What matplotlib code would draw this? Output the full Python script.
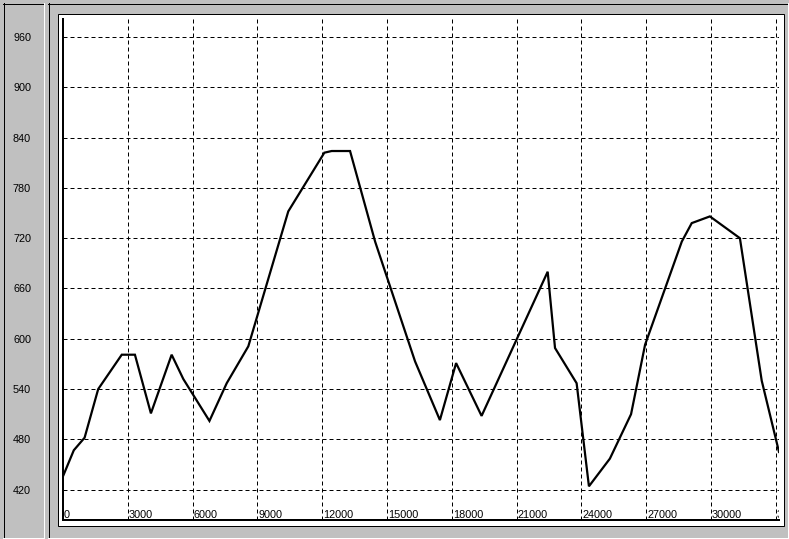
import matplotlib
matplotlib.use("Agg")
import matplotlib.pyplot as plt
import matplotlib.transforms as mtransforms
from matplotlib.patches import Rectangle
from matplotlib.lines import Line2D

# данные
dist = [0, 500, 1000, 1630, 2720, 3330, 4070, 5030, 5570, 6780, 7580, 8580,
        10430, 12100, 12440, 13290, 14450, 16300, 17450, 18200, 19380, 22440,
        22780, 23780, 24350, 25320, 26300, 26950, 28650, 29110, 29950, 31340,
        32350, 33150]
height = [436, 467, 482, 540, 581, 581, 511, 581, 552, 502, 547, 591,
          752, 822, 824, 824, 716, 573, 503, 571, 508, 680,
          589, 547, 424, 457, 510, 593, 716, 738, 746, 720,
          550, 465]
y_ticks = [420, 480, 540, 600, 660, 720, 780, 840, 900, 960]
x_ticks = [0, 3000, 6000, 9000, 12000, 15000, 18000, 21000, 24000, 27000, 30000, 33000]

W, H = 789, 539
gray = "#c0c0c0"
plt.rcParams['font.family'] = ['Liberation Sans', 'DejaVu Sans']

fig = plt.figure(figsize=(W / 100, H / 100), dpi=100, facecolor=gray)


def fx(x):
    return x / W


def fy(y):
    return 1 - y / H


def hline(x0, x1, y, color):
    fig.add_artist(Line2D([fx(x0), fx(x1)], [fy(y + 0.5), fy(y + 0.5)],
                          color=color, lw=0.72, zorder=-1))


def vline(x, y0, y1, color):
    fig.add_artist(Line2D([fx(x + 0.5), fx(x + 0.5)], [fy(y0), fy(y1)],
                          color=color, lw=0.72, zorder=-1))


# рамка панели подписей слева
hline(3, 43, 3, "black")
vline(3, 3, 537, "black")
vline(43, 3, 537, "white")
hline(3, 44, 537, "white")
# рамка основной панели
hline(48, W, 3, "black")
vline(48, 3, 537, "black")
hline(48, W, 537, "white")
vline(787, 3, 537, "white")
# белое поле графика
fig.add_artist(Rectangle((fx(58.5), fy(525.5)), fx(784) - fx(58.5), fy(13.5) - fy(525.5),
                         facecolor="white", edgecolor="black", lw=0.72,
                         transform=fig.transFigure, zorder=-1))

left, right, top, bottom = 63, 779, 19, 520
ax = fig.add_axes([fx(left), fy(bottom), fx(right) - fx(left), fy(top) - fy(bottom)])
ax.set_facecolor("none")

ax.plot(dist, height, color="black", lw=1.6, solid_joinstyle="miter", zorder=3)

ax.set_xlim(0, 33150)
ax.set_ylim(383.8, 981.5)

ax.set_yticks(y_ticks)
ax.set_yticklabels([str(v) for v in y_ticks], fontsize=7.8)
ax.tick_params(axis='y', length=0, pad=23)
ax.set_xticks(x_ticks)
ax.set_xticklabels([])
ax.tick_params(axis='x', length=0)

ax.grid(True, color="black", lw=0.72, linestyle=(0, (4, 3)))
for s in ["top", "right"]:
    ax.spines[s].set_visible(False)
for s in ["left", "bottom"]:
    ax.spines[s].set_linewidth(1.44)
    ax.spines[s].set_zorder(4)

# подписи оси X внутри поля графика
trans = mtransforms.blended_transform_factory(ax.transData, ax.transAxes)
off = mtransforms.ScaledTranslation(1 / 100, 2 / 100, fig.dpi_scale_trans)
for v in x_ticks:
    ax.text(v, 0, str(v), transform=trans + off, ha="left", va="baseline",
            fontsize=7.8, clip_on=True, zorder=5)

fig.savefig("out.png", dpi=100, facecolor=gray)
